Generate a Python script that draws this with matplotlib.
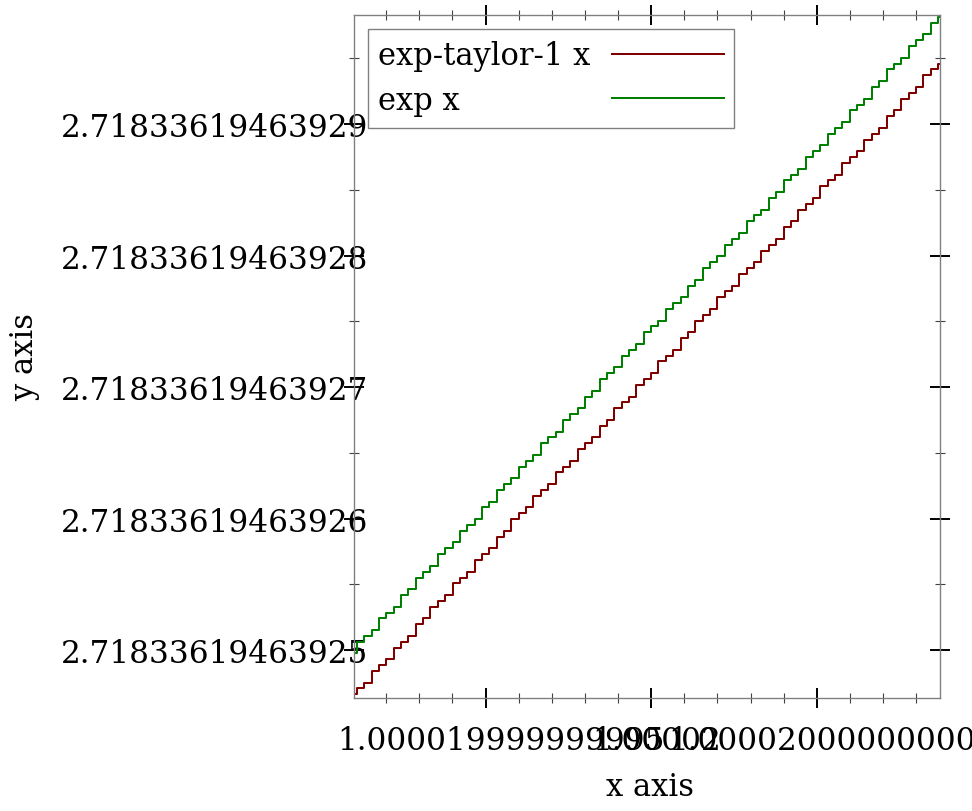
import numpy as np
import matplotlib
matplotlib.use("Agg")
import matplotlib.pyplot as plt
from matplotlib.ticker import FixedLocator, MultipleLocator
from matplotlib.lines import Line2D
from matplotlib.patches import Rectangle
from matplotlib.transforms import ScaledTranslation

plt.rcParams['font.family'] = ['DejaVu Serif']
plt.rcParams['font.size'] = 22

# x is in units of 1e-15 around 1.00002, one step per float ulp (2^-52)
X_ULP = 0.2220446
step_index = np.arange(-41, 40) + 0.5

# y is in units of 1e-14 above 2.7183361946392, counted in float ulps (2^-51)
Y_ULP = 0.0444089

exp_levels = [
    112, 114, 115, 116, 118, 119, 120, 122, 123, 125, 126, 127, 129, 130,
    131, 133, 134, 135, 137, 138, 140, 141, 142, 144, 145, 146, 148, 149,
    150, 152, 153, 154, 156, 157, 159, 160, 161, 163, 164, 165, 167, 168,
    169, 171, 172, 173, 175, 176, 178, 179, 180, 182, 183, 184, 186, 187,
    188, 190, 191, 193, 194, 195, 197, 198, 199, 201, 202, 203, 205, 206,
    207, 209, 210, 212, 213, 214, 216, 217, 218, 220, 221,
]
taylor_levels = [
    105, 106, 107, 109, 110, 111, 113, 114, 115, 117, 118, 120, 121, 122,
    124, 125, 126, 128, 129, 130, 132, 133, 135, 136, 137, 139, 140, 141,
    143, 144, 145, 147, 148, 149, 151, 152, 154, 155, 156, 158, 159, 160,
    162, 163, 164, 166, 167, 169, 170, 171, 173, 174, 175, 177, 178, 179,
    181, 182, 183, 185, 186, 188, 189, 190, 192, 193, 194, 196, 197, 198,
    200, 201, 202, 204, 205, 207, 208, 209, 211, 212, 213,
]

series_labels = ["exp-taylor-1 x", "exp x"]
series_colors = ["#800000", "#008000"]

x_ticks = [-5, 0, 5]
x_tick_labels = ["1.000019999999995", "1.00002", "1.000020000000005"]
y_ticks = [5, 6, 7, 8, 9]
y_tick_labels = ["2.71833619463925", "2.71833619463926", "2.71833619463927",
                 "2.71833619463928", "2.71833619463929"]

fig = plt.figure(figsize=(9.72, 8.12), dpi=100)
ax = fig.add_axes([354 / 972, 113 / 812, 586 / 972, 683 / 812])

x = step_index * X_ULP
for levels, color in zip([taylor_levels, exp_levels], series_colors):
    ax.plot(x, np.array(levels) * Y_ULP, drawstyle='steps-mid',
            color=color, lw=1.45)

ax.set_xlim(-8.97, 8.72)
ax.set_ylim(4.635, 9.829)

ax.xaxis.set_major_locator(FixedLocator(x_ticks))
ax.set_xticklabels(x_tick_labels, fontsize=22.4)
ax.xaxis.set_minor_locator(MultipleLocator(1))
ax.yaxis.set_major_locator(FixedLocator(y_ticks))
ax.set_yticklabels(y_tick_labels, fontsize=22.4)
ax.yaxis.set_minor_locator(MultipleLocator(0.5))

for side in ax.spines.values():
    side.set_color('#808080')
    side.set_linewidth(1.0)

ax.tick_params(which='both', direction='inout', top=True, right=True)
ax.tick_params(which='major', length=14.4, width=1.4, color='black')
ax.tick_params(which='minor', length=7.2, width=0.8, color='#404040')
ax.tick_params(axis='x', which='major', pad=12.2)
ax.tick_params(axis='y', which='major', pad=-17.3)

# the x labels sit a little right of their ticks and run into each other
for lab, dx in zip(ax.get_xticklabels(), [15, 5, 15]):
    lab.set_transform(lab.get_transform()
                      + ScaledTranslation(dx / 100, 0, fig.dpi_scale_trans))

ax.set_xlabel("x axis")
ax.set_ylabel("y axis")
ax.xaxis.set_label_coords(0.505, -0.107)
ax.yaxis.set_label_coords(-0.535, 0.5)

# legend drawn by hand: text first, line sample on the right
box = Rectangle((0.0239, 0.8346), 0.6246, 0.1449, transform=ax.transAxes,
                facecolor='white', edgecolor='#808080', lw=1.0, zorder=5)
ax.add_patch(box)
for label, color, ty, ly in zip(series_labels, series_colors,
                                [0.9283, 0.8624], [0.9429, 0.8785]):
    ax.text(0.041, ty, label, transform=ax.transAxes, va='baseline',
            ha='left', zorder=6)
    ax.add_line(Line2D([0.4403, 0.6314], [ly, ly], transform=ax.transAxes,
                       color=color, lw=1.45, zorder=6))

fig.savefig("out.png", dpi=100)
